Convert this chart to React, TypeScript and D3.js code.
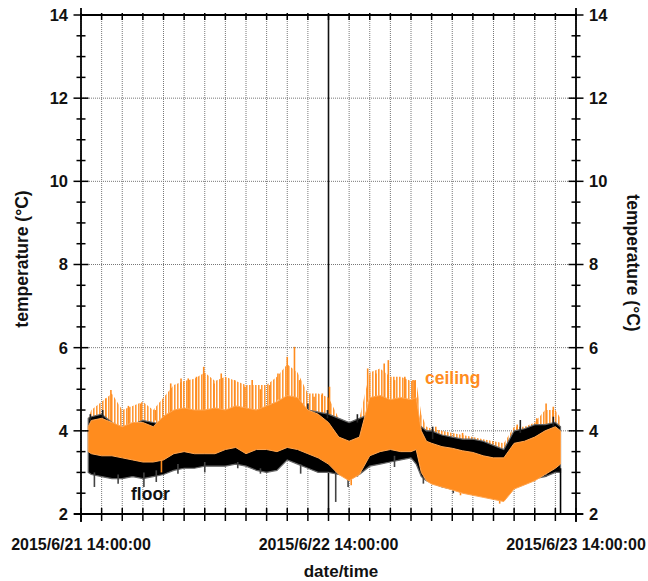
import React from "react";
import * as d3 from "d3";

// hours after 2015/6/21 14:00:00
const hours = [0.7, 1, 2, 3, 4, 5, 6, 7, 8, 9, 10, 11, 12, 13, 14, 15, 16, 17, 18, 19, 20, 21, 22, 23, 24, 25, 26, 27, 28, 29, 30, 31, 32, 32.5, 33, 33.5, 34, 35, 36, 37, 38, 39, 40, 41, 42, 43, 44, 45, 46, 46.5];
const ceilingPeak = [4.3, 4.5, 4.7, 4.9, 4.5, 4.6, 4.7, 4.5, 4.8, 5.1, 5.2, 5.25, 5.4, 5.2, 5.3, 5.2, 5.1, 5.1, 5.1, 5.3, 5.6, 5.4, 4.9, 4.9, 4.8, 4.3, 4.1, 4.3, 5.4, 5.5, 5.3, 5.3, 5.2, 5.2, 4.4, 4.1, 4.05, 4.0, 3.95, 3.9, 3.85, 3.8, 3.75, 3.7, 4.1, 4.1, 4.2, 4.5, 4.5, 4.3];
const ceilingMax = [4.1, 4.25, 4.3, 4.2, 4.1, 4.2, 4.2, 4.1, 4.35, 4.5, 4.55, 4.5, 4.5, 4.55, 4.5, 4.6, 4.55, 4.5, 4.6, 4.7, 4.85, 4.8, 4.5, 4.4, 4.2, 3.85, 3.75, 3.85, 4.8, 4.85, 4.75, 4.8, 4.75, 4.8, 4.0, 3.75, 3.7, 3.62, 3.58, 3.52, 3.48, 3.4, 3.35, 3.35, 3.7, 3.75, 3.85, 4.0, 4.1, 4.0];
const ceilingMin = [3.5, 3.45, 3.4, 3.4, 3.35, 3.3, 3.25, 3.25, 3.3, 3.45, 3.5, 3.45, 3.45, 3.45, 3.55, 3.6, 3.45, 3.55, 3.55, 3.5, 3.6, 3.55, 3.45, 3.35, 3.2, 2.95, 2.8, 2.95, 3.4, 3.5, 3.55, 3.5, 3.5, 3.55, 3.0, 2.8, 2.72, 2.65, 2.58, 2.5, 2.45, 2.4, 2.35, 2.3, 2.6, 2.7, 2.8, 2.95, 3.1, 3.2];
const floorMax = [4.3, 4.34, 4.4, 4.2, 4.05, 4.15, 4.25, 4.2, 4.15, 4.1, 4.15, 4.1, 4.15, 4.15, 4.2, 4.25, 4.2, 4.2, 4.25, 4.3, 4.4, 4.45, 4.5, 4.45, 4.4, 4.3, 4.2, 4.3, 4.4, 4.3, 4.3, 4.3, 4.3, 4.2, 4.1, 4.0, 4.0, 3.9, 3.85, 3.8, 3.8, 3.75, 3.65, 3.55, 4.0, 4.05, 4.15, 4.15, 4.2, 4.1];
const floorMin = [3.0, 2.95, 2.9, 2.85, 2.85, 2.9, 2.85, 2.9, 2.95, 3.05, 3.1, 3.1, 3.15, 3.15, 3.15, 3.2, 3.15, 3.05, 3.0, 3.05, 3.3, 3.2, 3.1, 3.0, 3.0, 2.95, 2.9, 2.95, 3.15, 3.2, 3.25, 3.3, 3.35, 3.2, 2.9, 2.8, 2.75, 2.65, 2.6, 2.6, 2.55, 2.55, 2.5, 2.45, 2.7, 2.75, 2.85, 2.9, 3.0, 3.0];

// single readings that stick out of the bands
const ceilingUpHours = [2.4, 2.9, 4.6, 5.8, 7.2, 8.7, 9.7, 10.4, 11.2, 11.9, 12.9, 13.6, 14.9, 15.9, 16.6, 17.4, 18.3, 19.1, 20.0, 20.7, 21.2, 22.6, 23.4, 24.1, 27.8, 28.6, 29.4, 29.8, 30.4, 31.4, 32.2, 32.4, 34.4, 37.0, 42.3, 44.2, 45.1, 45.8];
const ceilingUpValues = [4.78, 4.98, 4.6, 4.66, 4.5, 5.14, 5.26, 5.26, 5.3, 5.54, 5.14, 5.38, 5.22, 5.06, 5.22, 5.0, 5.1, 5.38, 5.78, 6.02, 5.22, 4.82, 4.9, 5.06, 5.5, 5.38, 5.62, 5.7, 5.22, 5.3, 5.22, 5.22, 4.1, 3.95, 4.15, 4.3, 4.66, 4.58];
const ceilingDownHours = [7.8, 26.2, 36.8, 40.6];
const ceilingDownValues = [3.0, 2.69, 2.45, 2.25];
const floorDownHours = [1.3, 3.6, 6.1, 7.3, 9.4, 12.0, 15.2, 17.4, 21.3, 24.7, 25.9, 26.8, 30.4, 33.2, 36.1, 40.3, 42.9, 45.1, 46.5];
const floorDownValues = [2.65, 2.73, 2.65, 2.77, 2.97, 3.0, 3.1, 2.97, 2.97, 2.29, 2.65, 2.9, 3.13, 2.73, 2.5, 2.41, 2.73, 2.9, 2.0];
const floorUpHours = [0.9, 2.1, 22.0, 23.9, 26.8, 34.1, 42.6, 45.8];
const floorUpValues = [4.4, 4.5, 4.66, 4.5, 4.4, 4.1, 4.26, 4.34];

const dateLabels = ["2015/6/21 14:00:00", "2015/6/22 14:00:00", "2015/6/23 14:00:00"];
const yMajor = [2, 4, 6, 8, 10, 12, 14];

const START = new Date(2015, 5, 21, 14, 0, 0);
const END = new Date(2015, 5, 23, 14, 0, 0);
const MID = new Date(2015, 5, 22, 14, 0, 0);
const toDate = (h: number) => new Date(START.getTime() + h * 3600e3);

const ORANGE = "#FF8C1E";
const FONT = "'Liberation Sans', Arial, sans-serif";

export default function App() {
  const L = 81, R = 576, T = 15, B = 514;
  const x = d3.scaleTime().domain([START, END]).range([L, R]);
  const y = d3.scaleLinear().domain([2, 14]).range([B, T]);

  const rows = hours.map((h, i) => ({ t: toDate(h), cPk: ceilingPeak[i], cMax: ceilingMax[i], cMin: ceilingMin[i], fMax: floorMax[i], fMin: floorMin[i] }));
  const floorArea = d3.area<any>().x((d) => x(d.t)).y0((d) => y(d.fMin)).y1((d) => y(d.fMax));
  const ceilArea = d3.area<any>().x((d) => x(d.t)).y0((d) => y(d.cMin)).y1((d) => y(d.cMax));
  const peakArea = d3.area<any>().x((d) => x(d.t)).y0((d) => y(d.cMax)).y1((d) => y(d.cPk));
  const bandAt = (arr: number[], h: number) => {
    const i = d3.bisectLeft(hours, h);
    return arr[Math.min(i, arr.length - 1)];
  };

  const gridX = x.ticks(d3.timeHour.every(2) as any);
  const minorY = y.ticks(24);
  const dateTicks = [START, MID, END];

  return (
    <svg width={648} height={581} style={{ position: "absolute", left: 0, top: 0, background: "#fff" }} fontFamily={FONT} fontWeight="bold">
      <defs>
        <pattern id="spk" width={3} height={6} patternUnits="userSpaceOnUse">
          <rect x={0} y={0} width={1.6} height={6} fill={ORANGE} />
        </pattern>
      </defs>
      <rect x={0} y={0} width={648} height={581} fill="#fff" />
      {/* grid */}
      {gridX.map((d, i) => (
        <line key={"gx" + i} x1={x(d)} x2={x(d)} y1={T} y2={B} stroke="#777" strokeWidth={1} strokeDasharray="1,1" />
      ))}
      {yMajor.slice(1, -1).map((v) => (
        <line key={"gy" + v} x1={L} x2={R} y1={y(v)} y2={y(v)} stroke="#777" strokeWidth={1} strokeDasharray="1,1" />
      ))}
      <line x1={x(MID)} x2={x(MID)} y1={T} y2={B} stroke="#111" strokeWidth={1.6} />

      {/* ceiling peaks (behind floor) */}
      <path d={peakArea(rows) || ""} fill="url(#spk)" opacity={0.9} />
      {ceilingUpHours.map((h, i) => (
        <line key={"cu" + i} x1={x(toDate(h))} x2={x(toDate(h))} y1={y(bandAt(ceilingMax, h) - 0.1)} y2={y(ceilingUpValues[i])} stroke={ORANGE} strokeWidth={1.6} />
      ))}
      {/* floor */}
      <path d={floorArea(rows) || ""} fill="#000" stroke="#666" strokeWidth={1.2} />
      {floorDownHours.map((h, i) => (
        <line key={"fd" + i} x1={x(toDate(h))} x2={x(toDate(h))} y1={y(bandAt(floorMin, h) + 0.1)} y2={y(floorDownValues[i])} stroke={i === floorDownHours.length - 1 ? "#000" : "#444"} strokeWidth={1.6} />
      ))}
      {floorUpHours.map((h, i) => (
        <line key={"fu" + i} x1={x(toDate(h))} x2={x(toDate(h))} y1={y(bandAt(floorMax, h) - 0.1)} y2={y(floorUpValues[i])} stroke="#222" strokeWidth={1.6} />
      ))}
      {/* ceiling */}
      {ceilingDownHours.map((h, i) => (
        <line key={"cd" + i} x1={x(toDate(h))} x2={x(toDate(h))} y1={y(bandAt(ceilingMin, h) + 0.1)} y2={y(ceilingDownValues[i])} stroke={ORANGE} strokeWidth={1.6} />
      ))}
      <path d={ceilArea(rows) || ""} fill={ORANGE} stroke="#FFA550" strokeWidth={1} />

      {/* frame */}
      <line x1={L} x2={R} y1={T} y2={T} stroke="#000" strokeWidth={1.8} />
      <line x1={L - 7} x2={R + 7} y1={B} y2={B} stroke="#000" strokeWidth={1.8} />
      <line x1={L} x2={L} y1={T - 7} y2={B + 8} stroke="#000" strokeWidth={1.8} />
      <line x1={R} x2={R} y1={T - 7} y2={B + 8} stroke="#000" strokeWidth={1.8} />
      {gridX.map((d, i) => (
        <g key={"tx" + i}>
          <line x1={x(d)} x2={x(d)} y1={T - 2} y2={T + 5} stroke="#000" strokeWidth={1.5} />
          <line x1={x(d)} x2={x(d)} y1={B - 6} y2={B + 7} stroke="#000" strokeWidth={1.5} />
        </g>
      ))}
      {minorY.map((v) => {
        const major = yMajor.includes(v);
        const len = major ? 7.5 : 4.5;
        return (
          <g key={"ty" + v}>
            <line x1={L - len} x2={L + len} y1={y(v)} y2={y(v)} stroke="#000" strokeWidth={1.5} />
            <line x1={R - len} x2={R + len} y1={y(v)} y2={y(v)} stroke="#000" strokeWidth={1.5} />
          </g>
        );
      })}
      {yMajor.map((v) => (
        <g key={"yl" + v} fontSize={16.5} fill="#111">
          <text x={L - 13} y={y(v)} dy="0.36em" textAnchor="end">{v}</text>
          <text x={R + 13} y={y(v)} dy="0.36em" textAnchor="start">{v}</text>
        </g>
      ))}
      {dateTicks.map((d, i) => (
        <text key={"dl" + i} x={x(d)} y={550} textAnchor="middle" fontSize={16} fill="#111">{dateLabels[i]}</text>
      ))}
      <text x={341} y={577} textAnchor="middle" fontSize={17} fill="#111">date/time</text>
      <text transform="translate(28,259) rotate(-90)" textAnchor="middle" fontSize={17.5} fill="#111">temperature (°C)</text>
      <text transform="translate(627,263) rotate(90)" textAnchor="middle" fontSize={17.5} fill="#111">temperature (°C)</text>

      <text x={425} y={384} fontSize={17.5} fill={ORANGE}>ceiling</text>
      <text x={131} y={500} fontSize={17.5} fill="#111">floor</text>
    </svg>
  );
}
